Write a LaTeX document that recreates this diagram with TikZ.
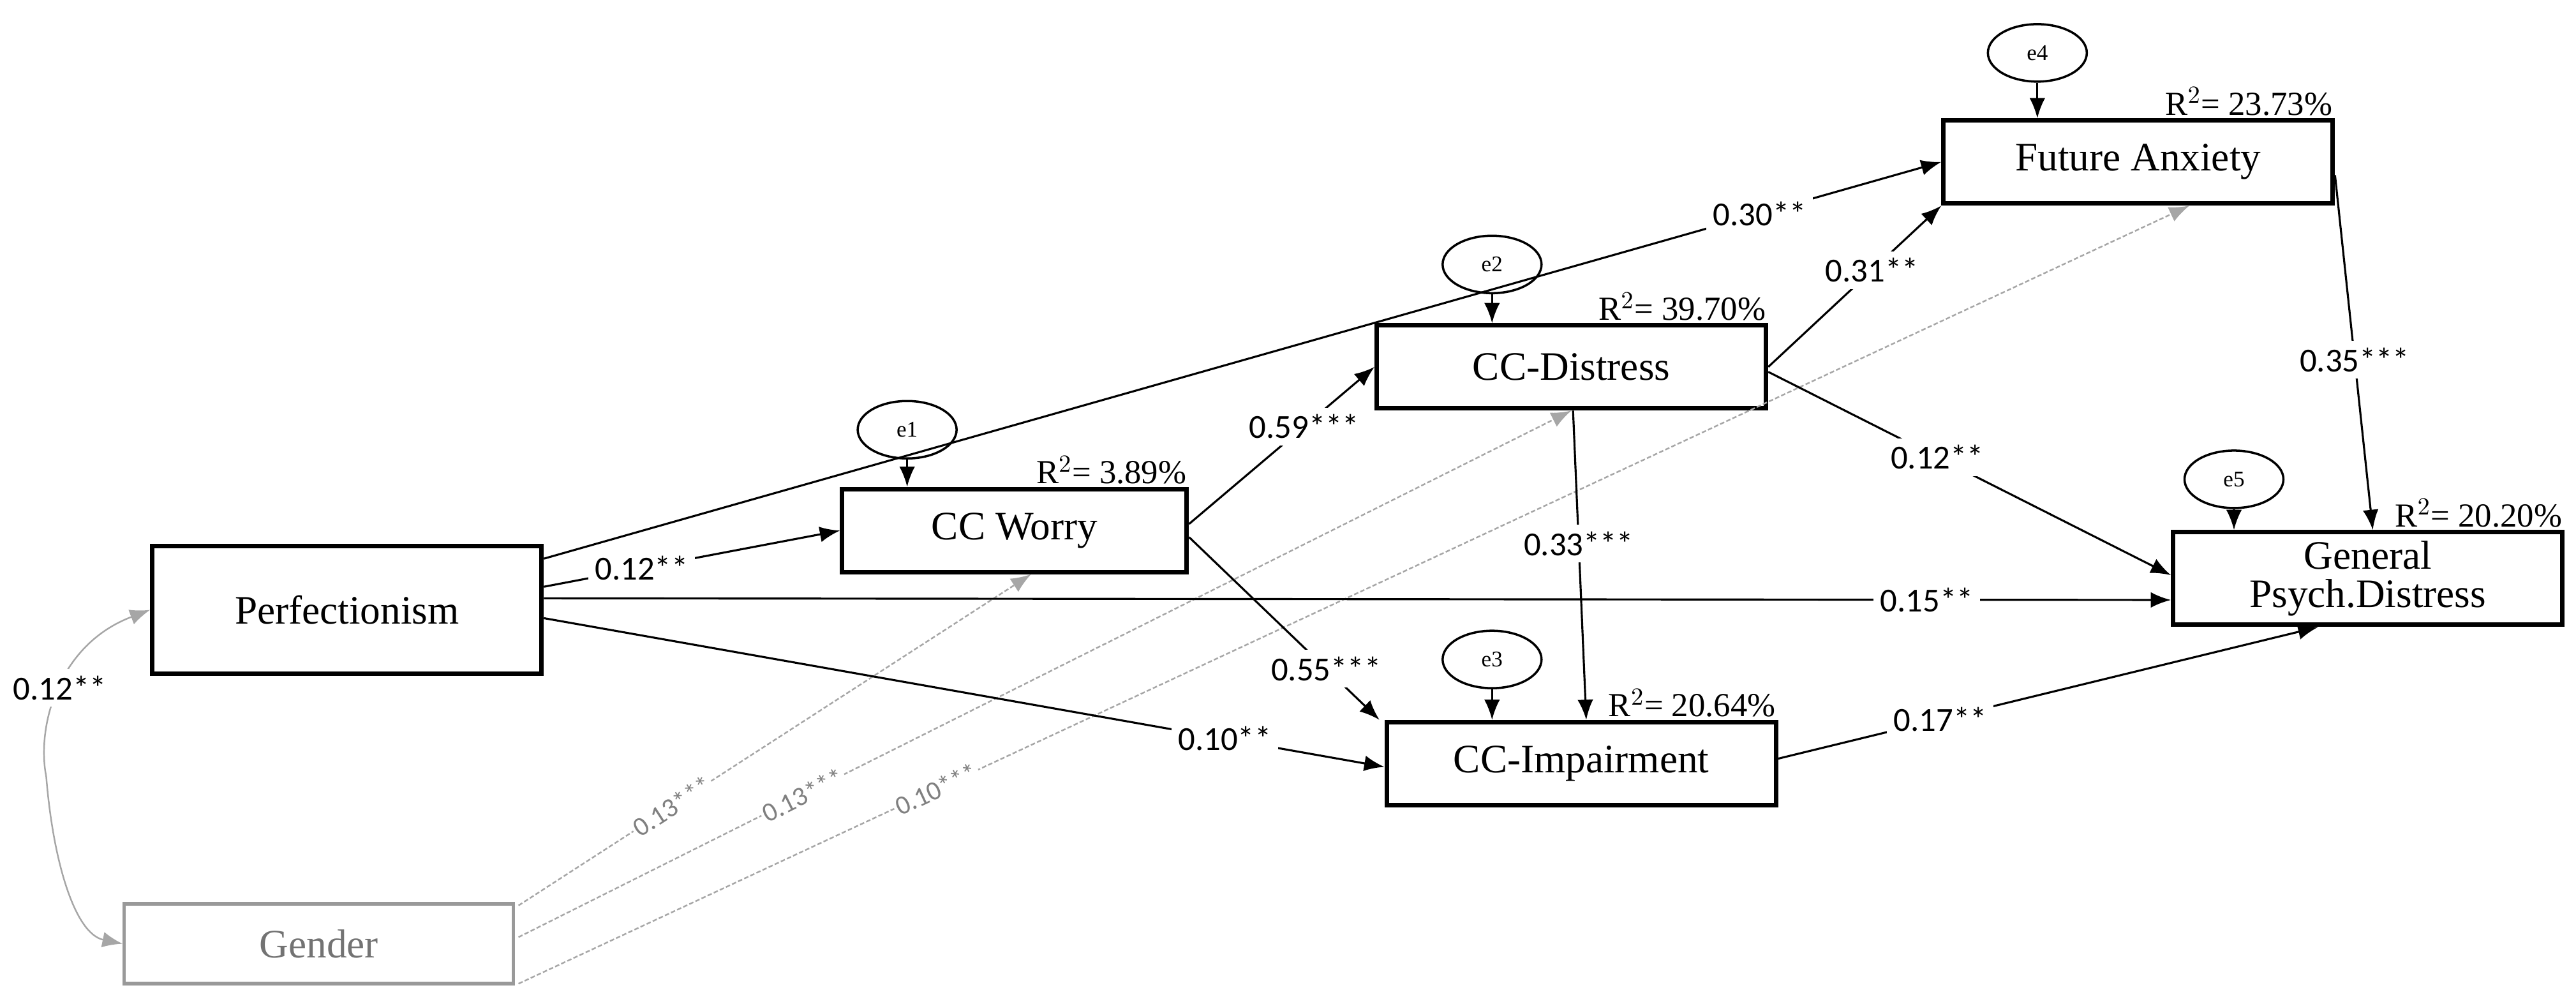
\documentclass[tikz,border=0pt]{standalone}
\usepackage{fontspec}
\setmainfont{Liberation Serif}
\newfontfamily\lab{Carlito}
\usetikzlibrary{arrows.meta,calc,shapes.geometric}
\begin{document}
\begin{tikzpicture}[x=0.0259cm,y=-0.0259cm,
 box/.style={draw,line width=2pt,minimum width=6.1cm,minimum height=1.3cm,font=\fontsize{18}{20}\selectfont,inner sep=2pt},
 gbox/.style={box,draw=gray!80,text=gray!90!black,line width=1.5pt},
 err/.style={draw,line width=1pt,ellipse,minimum width=1.55cm,minimum height=0.9cm,inner sep=0pt,font=\fontsize{10}{11}\selectfont},
 path/.style={line width=0.9pt,-{Latex[length=9pt,width=7pt]}},
 gpath/.style={line width=0.7pt,gray!70,dash pattern=on 2pt off 1pt,-{Latex[length=9pt,width=7pt]}},
 lb/.style={fill=white,inner sep=3pt,font=\lab\fontsize{15}{16}\selectfont},
 glb/.style={fill=white,inner sep=1pt,text=gray,sloped,font=\lab\fontsize{12}{13}\selectfont},
 rsq/.style={font=\fontsize{15}{16}\selectfont,anchor=south east,inner sep=1pt}]
\useasboundingbox (0,0) rectangle (1559,603);
\node[box,minimum height=2.0cm] (perf) at (210,369) {Perfectionism};
\node[gbox,minimum height=1.25cm] (gen) at (193,571) {Gender};
\node[box,minimum width=5.4cm] (wor) at (614,321) {CC Worry};
\node[box] (dis) at (951,222) {CC-Distress};
\node[box] (imp) at (957,462) {CC-Impairment};
\node[box] (fa) at (1294,98) {Future Anxiety};
\node[box,align=center,minimum height=1.45cm,font=\fontsize{18}{17}\selectfont] (gpd) at (1433,350) {General\\Psych.Distress};
\node[rsq] (r1) at (wor.north east) {R$^2$= 3.89\%};
\node[rsq] (r2) at (dis.north east) {R$^2$= 39.70\%};
\node[rsq] (r3) at (imp.north east) {R$^2$= 20.64\%};
\node[rsq] (r4) at (fa.north east) {R$^2$= 23.73\%};
\node[rsq] (r5) at (gpd.north east) {R$^2$= 20.20\%};
\node[err] (e1) at (549,260) {e1};
\node[err] (e2) at (903,160) {e2};
\node[err] (e3) at (903,399) {e3};
\node[err] (e4) at (1233,32) {e4};
\node[err] (e5) at (1352,290) {e5};
\draw[path] (e1) -- (e1 |- wor.north);
\draw[path] (e2) -- (e2 |- dis.north);
\draw[path] (e3) -- (e3 |- imp.north);
\draw[path] (e4) -- (e4 |- fa.north);
\draw[path] (e5) -- (e5 |- gpd.north);
% gray paths
\draw[gpath] ($(gen.north east)+(2,2)$) -- node[glb,pos=0.3]{0.13***} ($(wor.south)+(10,0)$);
\draw[gpath] ($(gen.east)+(2,-4)$) -- node[glb,pos=0.27]{0.13***} ($(dis.south)+(0,0)$);
\draw[gpath] ($(gen.south east)+(2,-1)$) -- node[glb,pos=0.25]{0.10***} ($(fa.south)+(31,0)$);
\draw[line width=0.7pt,gray!70,{Latex[length=9pt,width=7pt]}-{Latex[length=9pt,width=7pt]}] ($(perf.west)+(0,0)$) .. controls (35,390) and (22,440) .. node[lb,text=black,pos=0.5]{0.12**} (28,470) .. controls (32,520) and (45,565) .. (gen.west);
% black paths
\draw[path] ($(perf.east)+(0,-31)$) -- node[lb,pos=0.87]{0.30**} ($(fa.west)+(0,0)$);
\draw[path] ($(perf.east)+(0,-14)$) -- node[lb,pos=0.33]{0.12**} (wor.west);
\draw[path] ($(perf.east)+(0,-7)$) -- node[lb,pos=0.85]{0.15**} ($(gpd.west)+(0,13)$);
\draw[path] ($(perf.east)+(0,5)$) -- node[lb,pos=0.81]{0.10**} ($(imp.west)+(0,2)$);
\draw[path] ($(wor.east)+(0,-4)$) -- node[lb,pos=0.62]{0.59***} ($(dis.west)+(0,0)$);
\draw[path] ($(wor.east)+(0,4)$) -- node[lb,pos=0.72]{0.55***} ($(imp.north west)+(-3,0)$);
\draw[path] ($(dis.east)+(0,0)$) -- node[lb,pos=0.6]{0.31**} (fa.south west);
\draw[path] ($(dis.east)+(0,3)$) -- node[lb,pos=0.42]{0.12**} ($(gpd.west)+(0,-2)$);
\draw[path] ($(dis.south)+(1,0)$) -- node[lb,pos=0.43]{0.33***} ($(imp.north)+(3,0)$);
\draw[path] ($(fa.east)+(0,8)$) -- node[lb,pos=0.52]{0.35***} ($(gpd.north)+(3,0)$);
\draw[path] ($(imp.east)+(0,-3)$) -- node[lb,pos=0.3]{0.17**} ($(gpd.south)+(-30,0)$);
\end{tikzpicture}
\end{document}
